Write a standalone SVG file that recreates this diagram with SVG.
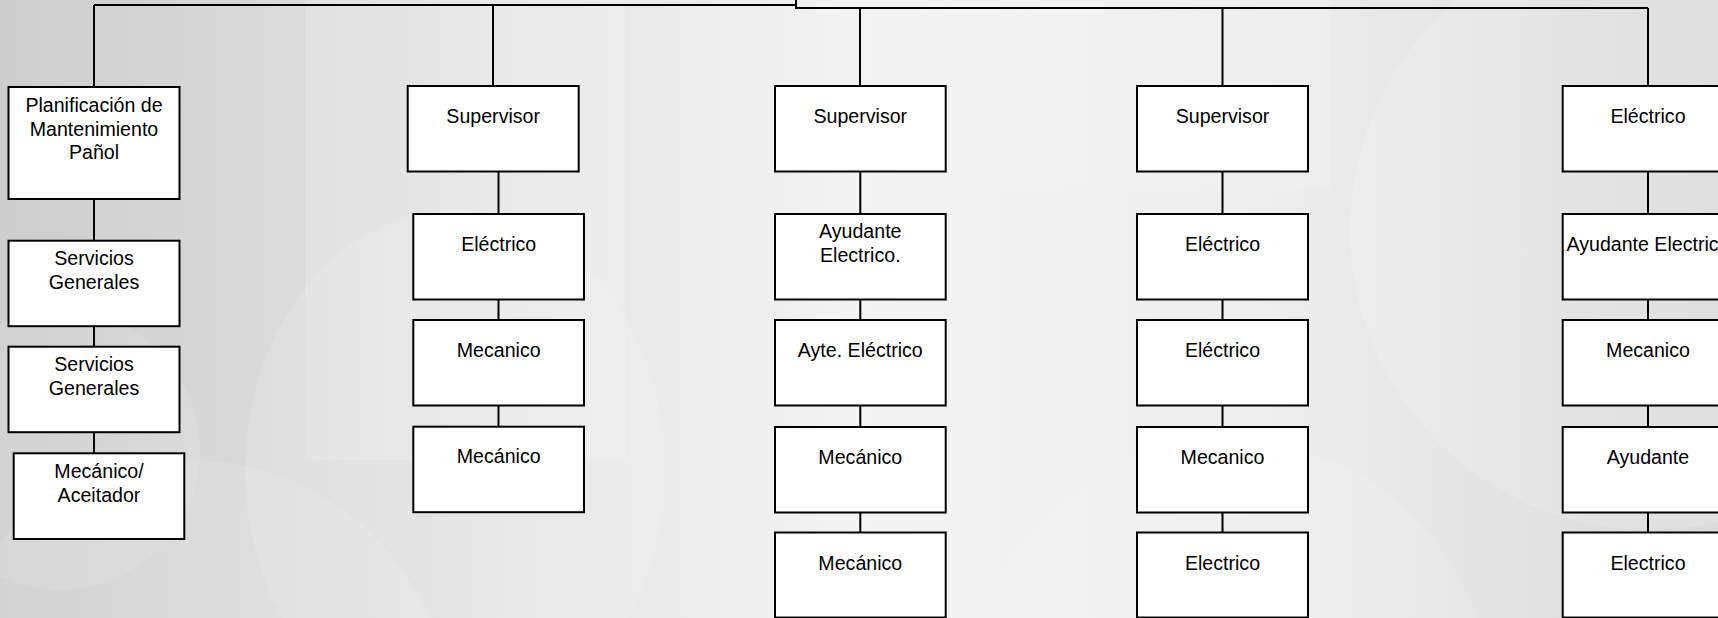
<svg xmlns="http://www.w3.org/2000/svg" width="1718" height="618" viewBox="0 0 1718 618">
  <defs>
    <linearGradient id="bgGrad" x1="0" y1="0" x2="1" y2="0">
      <stop offset="0" stop-color="#cdcdcd"/>
      <stop offset="0.25" stop-color="#e2e2e2"/>
      <stop offset="0.5" stop-color="#f3f3f3"/>
      <stop offset="0.72" stop-color="#efefef"/>
      <stop offset="1" stop-color="#dadada"/>
    </linearGradient>
    <style>
      .box { fill: #ffffff; stroke: #000000; stroke-width: 2; }
      .wire { fill: none; stroke: #000000; stroke-width: 2; }
      .lbl { font-family: "Liberation Sans", Arial, sans-serif; font-size: 19.6px; fill: #000000; text-anchor: middle; }
      .haze { fill: #ffffff; }
    </style>
  </defs>

  <!-- backdrop -->
  <rect x="0" y="0" width="1718" height="618" fill="url(#bgGrad)"/>
  <g id="backdrop-shapes">
    <rect class="haze" x="305" y="0" width="320" height="460" opacity="0.16"/>
    <ellipse class="haze" cx="455" cy="470" rx="210" ry="260" opacity="0.12"/>
    <circle class="haze" cx="190" cy="720" r="260" opacity="0.12"/>
    <circle class="haze" cx="60" cy="450" r="140" opacity="0.10"/>
    <circle class="haze" cx="1650" cy="230" r="300" opacity="0.14"/>
    <circle class="haze" cx="1230" cy="700" r="260" opacity="0.10"/>
    <rect class="haze" x="1000" y="0" width="330" height="190" opacity="0.10"/>
  </g>

  <!-- connectors -->
  <g id="connectors" class="wire">
    <path d="M94 5 H796"/>
    <path d="M796 0 V8 H1648"/>
    <path d="M94 5 V87"/>
    <path d="M493 5 V86"/>
    <path d="M860 8 V86"/>
    <path d="M1222.5 8 V86"/>
    <path d="M1648 8 V86"/>
    <!-- left column -->
    <path d="M94 199 V240.7"/>
    <path d="M94 326.2 V346.7"/>
    <path d="M94 432.2 V453.3"/>
    <!-- second column -->
    <path d="M498.5 171.5 V214"/>
    <path d="M498.5 299.5 V320"/>
    <path d="M498.5 405.5 V426.7"/>
    <!-- third column -->
    <path d="M860.3 171.5 V214"/>
    <path d="M860.3 299.5 V320"/>
    <path d="M860.3 405.5 V427"/>
    <path d="M860.3 512.5 V532.5"/>
    <!-- fourth column -->
    <path d="M1222.5 171.5 V214"/>
    <path d="M1222.5 299.5 V320"/>
    <path d="M1222.5 405.5 V427"/>
    <path d="M1222.5 512.5 V532.5"/>
    <!-- fifth column -->
    <path d="M1648 171.5 V214"/>
    <path d="M1648 299.5 V320"/>
    <path d="M1648 405.5 V427"/>
    <path d="M1648 512.5 V532.5"/>
  </g>

  <!-- left column -->
  <g id="planificacion">
    <rect class="box" x="8.5" y="87" width="171" height="112"/>
    <text class="lbl" x="94" y="112">Planificación de</text>
    <text class="lbl" x="94" y="135.5">Mantenimiento</text>
    <text class="lbl" x="94" y="159">Pañol</text>
  </g>
  <g id="servicios-1">
    <rect class="box" x="8.5" y="240.7" width="171" height="85.5"/>
    <text class="lbl" x="94" y="265">Servicios</text>
    <text class="lbl" x="94" y="288.5">Generales</text>
  </g>
  <g id="servicios-2">
    <rect class="box" x="8.5" y="346.7" width="171" height="85.5"/>
    <text class="lbl" x="94" y="371">Servicios</text>
    <text class="lbl" x="94" y="394.5">Generales</text>
  </g>
  <g id="mecanico-aceitador">
    <rect class="box" x="13.7" y="453.3" width="170.6" height="85.7"/>
    <text class="lbl" x="99" y="477.7">Mecánico/</text>
    <text class="lbl" x="99" y="501.5">Aceitador</text>
  </g>

  <!-- second column -->
  <g id="supervisor-a">
    <rect class="box" x="407.7" y="86" width="171" height="85.5"/>
    <text class="lbl" x="493.2" y="123.3">Supervisor</text>
  </g>
  <g id="electrico-a1">
    <rect class="box" x="413.3" y="214" width="170.7" height="85.5"/>
    <text class="lbl" x="498.7" y="250.7">Eléctrico</text>
  </g>
  <g id="mecanico-a2">
    <rect class="box" x="413.3" y="320" width="170.7" height="85.5"/>
    <text class="lbl" x="498.7" y="356.7">Mecanico</text>
  </g>
  <g id="mecanico-a3">
    <rect class="box" x="413.3" y="426.7" width="170.7" height="85.5"/>
    <text class="lbl" x="498.7" y="463.4">Mecánico</text>
  </g>

  <!-- third column -->
  <g id="supervisor-b">
    <rect class="box" x="775" y="86" width="170.7" height="85.5"/>
    <text class="lbl" x="860.3" y="123.3">Supervisor</text>
  </g>
  <g id="ayudante-b1">
    <rect class="box" x="775" y="214" width="170.7" height="85.5"/>
    <text class="lbl" x="860.3" y="238">Ayudante</text>
    <text class="lbl" x="860.3" y="262">Electrico.</text>
  </g>
  <g id="ayte-b2">
    <rect class="box" x="775" y="320" width="170.7" height="85.5"/>
    <text class="lbl" x="860.3" y="357">Ayte. Eléctrico</text>
  </g>
  <g id="mecanico-b3">
    <rect class="box" x="775" y="427" width="170.7" height="85.5"/>
    <text class="lbl" x="860.3" y="464">Mecánico</text>
  </g>
  <g id="mecanico-b4">
    <rect class="box" x="775" y="532.5" width="170.7" height="85"/>
    <text class="lbl" x="860.3" y="569.5">Mecánico</text>
  </g>

  <!-- fourth column -->
  <g id="supervisor-c">
    <rect class="box" x="1137" y="86" width="171" height="85.5"/>
    <text class="lbl" x="1222.5" y="123.3">Supervisor</text>
  </g>
  <g id="electrico-c1">
    <rect class="box" x="1137" y="214" width="171" height="85.5"/>
    <text class="lbl" x="1222.5" y="250.7">Eléctrico</text>
  </g>
  <g id="electrico-c2">
    <rect class="box" x="1137" y="320" width="171" height="85.5"/>
    <text class="lbl" x="1222.5" y="357">Eléctrico</text>
  </g>
  <g id="mecanico-c3">
    <rect class="box" x="1137" y="427" width="171" height="85.5"/>
    <text class="lbl" x="1222.5" y="464">Mecanico</text>
  </g>
  <g id="electrico-c4">
    <rect class="box" x="1137" y="532.5" width="171" height="85"/>
    <text class="lbl" x="1222.5" y="569.5">Electrico</text>
  </g>

  <!-- fifth column -->
  <g id="electrico-d">
    <rect class="box" x="1562.7" y="86" width="171" height="85.5"/>
    <text class="lbl" x="1648" y="123.3">Eléctrico</text>
  </g>
  <g id="ayudante-d1">
    <rect class="box" x="1562.7" y="214" width="171" height="85.5"/>
    <text class="lbl" x="1648" y="250.7">Ayudante Electrico</text>
  </g>
  <g id="mecanico-d2">
    <rect class="box" x="1562.7" y="320" width="171" height="85.5"/>
    <text class="lbl" x="1648" y="357">Mecanico</text>
  </g>
  <g id="ayudante-d3">
    <rect class="box" x="1562.7" y="427" width="171" height="85.5"/>
    <text class="lbl" x="1648" y="464">Ayudante</text>
  </g>
  <g id="electrico-d4">
    <rect class="box" x="1562.7" y="532.5" width="171" height="85"/>
    <text class="lbl" x="1648" y="569.5">Electrico</text>
  </g>
</svg>
